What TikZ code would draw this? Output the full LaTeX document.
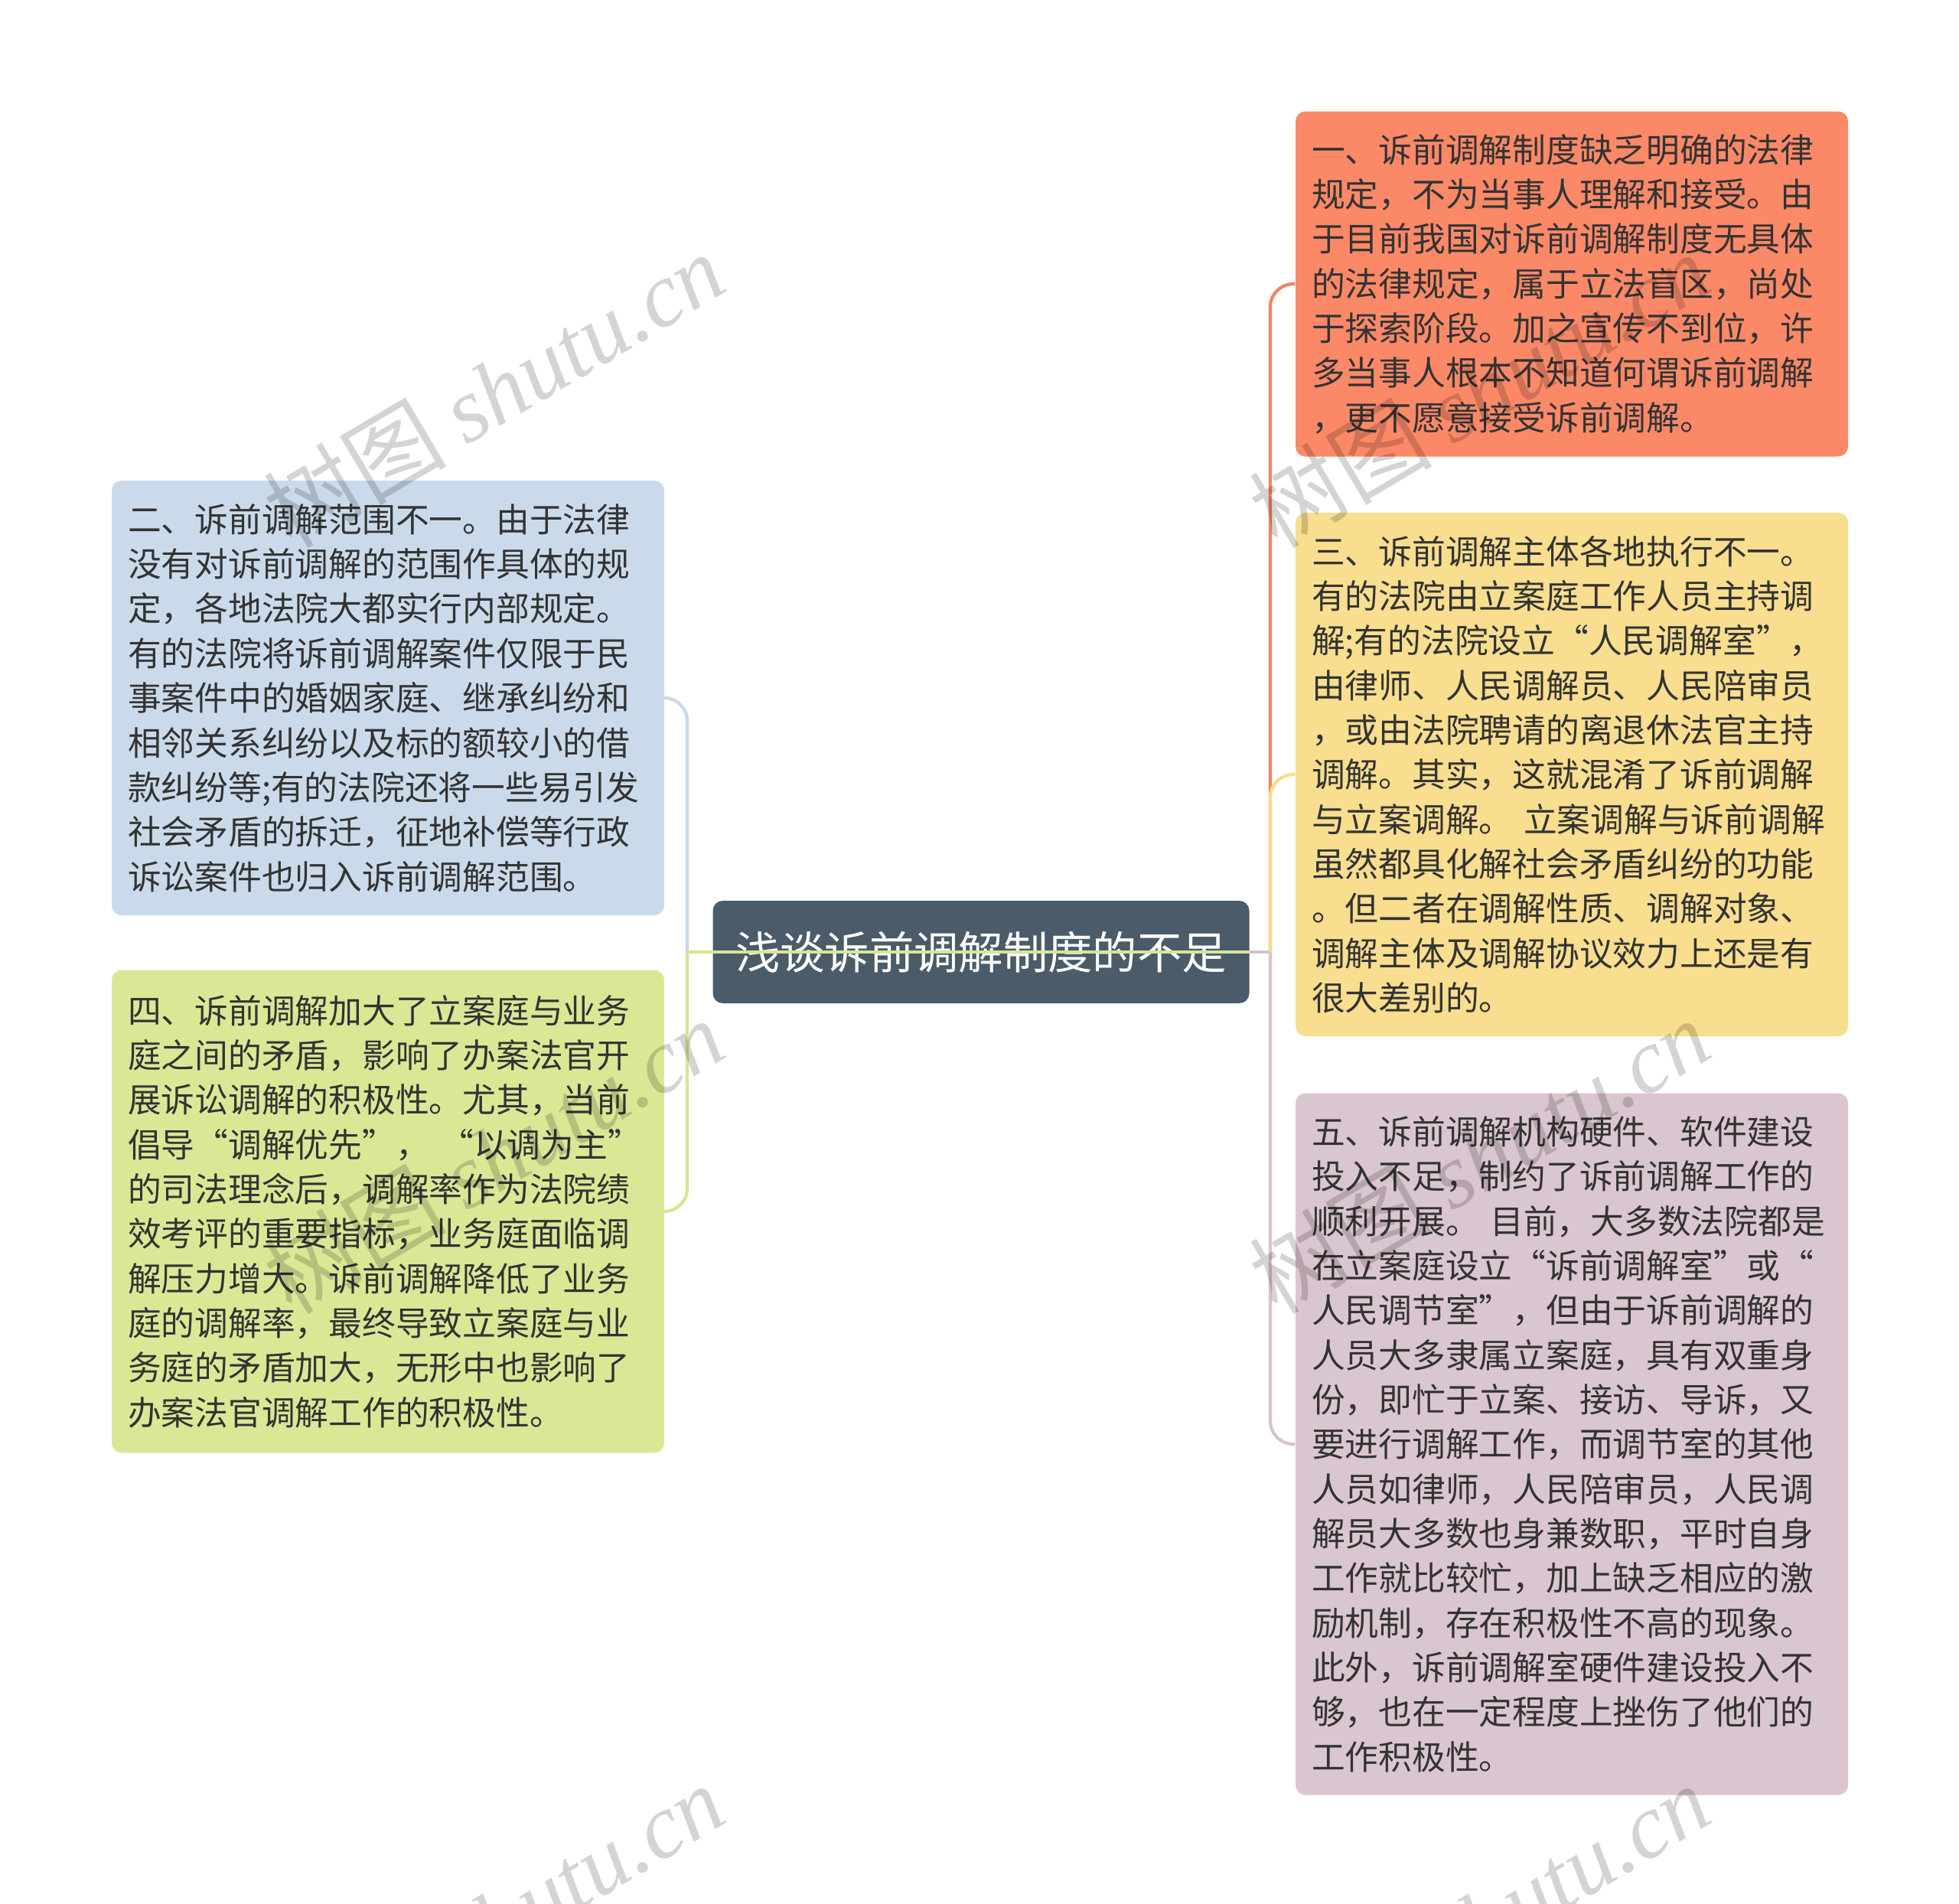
\documentclass[tikz,border=0pt]{standalone}
\usepackage{fontspec}
\usepackage{xcolor}
\usetikzlibrary{positioning,backgrounds}
\newfontfamily\cjk{Noto Sans CJK SC}
\newfontfamily\wmserif{Liberation Serif}
\definecolor{rootslate}{RGB}{76,91,106}
\definecolor{textdark}{RGB}{51,51,51}
\definecolor{fillorange}{RGB}{251,137,104}
\definecolor{fillyellow}{RGB}{248,222,142}
\definecolor{fillmauve}{RGB}{218,198,208}
\definecolor{fillblue}{RGB}{203,218,235}
\definecolor{fillgreen}{RGB}{218,232,150}
\definecolor{lineorange}{RGB}{242,132,100}
\definecolor{lineyellow}{RGB}{245,220,140}
\definecolor{linemauve}{RGB}{215,195,205}
\definecolor{lineblue}{RGB}{200,216,232}
\definecolor{linegreen}{RGB}{214,230,150}

\begin{document}
\begin{tikzpicture}[
    every node/.style={font=\cjk},
    root/.style={rectangle, fill=rootslate, text=white, rounded corners=0.13cm, minimum width=7.01cm, minimum height=1.34cm, inner sep=0pt, font=\cjk\fontsize{16.6}{20}\selectfont},
    topic/.style={rectangle, rounded corners=0.13cm, text=textdark, text width=6.8cm, align=left, inner xsep=0.21cm, inner ysep=0pt, font=\cjk\fontsize{12.45}{16.6}\selectfont},
    link/.style={line width=1.2pt, rounded corners=0.3cm},
    watermark/.style={rotate=30.7, text=black, text opacity=0.17, inner sep=0pt, font=\cjk\fontsize{34}{34}\selectfont}
]

\useasboundingbox (0,0) rectangle (25.6,-24.87);

% Central topic
\node[root] (root) at (12.82,-12.44) {浅谈诉前调解制度的不足};

% Right branches
\node[topic, fill=fillorange, minimum height=4.51cm] (law) at (20.54,-3.71) {
    一、诉前调解制度缺乏明确的法律\\
    规定，不为当事人理解和接受。由\\
    于目前我国对诉前调解制度无具体\\
    的法律规定，属于立法盲区，尚处\\
    于探索阶段。加之宣传不到位，许\\
    多当事人根本不知道何谓诉前调解\\
    ，更不愿意接受诉前调解。
};

\node[topic, fill=fillyellow, minimum height=6.84cm] (subject) at (20.54,-10.12) {
    三、诉前调解主体各地执行不一。\\
    有的法院由立案庭工作人员主持调\\
    解;有的法院设立“人民调解室”，\\
    由律师、人民调解员、人民陪审员\\
    ，或由法院聘请的离退休法官主持\\
    调解。其实，这就混淆了诉前调解\\
    与立案调解。 立案调解与诉前调解\\
    虽然都具化解社会矛盾纠纷的功能\\
    。但二者在调解性质、调解对象、\\
    调解主体及调解协议效力上还是有\\
    很大差别的。
};

\node[topic, fill=fillmauve, minimum height=9.17cm] (facility) at (20.54,-18.87) {
    五、诉前调解机构硬件、软件建设\\
    投入不足，制约了诉前调解工作的\\
    顺利开展。 目前，大多数法院都是\\
    在立案庭设立“诉前调解室”或“\\
    人民调节室”，但由于诉前调解的\\
    人员大多隶属立案庭，具有双重身\\
    份，即忙于立案、接访、导诉，又\\
    要进行调解工作，而调节室的其他\\
    人员如律师，人民陪审员，人民调\\
    解员大多数也身兼数职，平时自身\\
    工作就比较忙，加上缺乏相应的激\\
    励机制，存在积极性不高的现象。\\
    此外，诉前调解室硬件建设投入不\\
    够，也在一定程度上挫伤了他们的\\
    工作积极性。
};

% Left branches
\node[topic, fill=fillblue, minimum height=5.68cm] (scope) at (5.07,-9.12) {
    二、诉前调解范围不一。由于法律\\
    没有对诉前调解的范围作具体的规\\
    定，各地法院大都实行内部规定。\\
    有的法院将诉前调解案件仅限于民\\
    事案件中的婚姻家庭、继承纠纷和\\
    相邻关系纠纷以及标的额较小的借\\
    款纠纷等;有的法院还将一些易引发\\
    社会矛盾的拆迁，征地补偿等行政\\
    诉讼案件也归入诉前调解范围。
};

\node[topic, fill=fillgreen, minimum height=6.31cm] (conflict) at (5.07,-15.83) {
    四、诉前调解加大了立案庭与业务\\
    庭之间的矛盾，影响了办案法官开\\
    展诉讼调解的积极性。尤其，当前\\
    倡导“调解优先”， “以调为主”\\
    的司法理念后，调解率作为法院绩\\
    效考评的重要指标，业务庭面临调\\
    解压力增大。诉前调解降低了业务\\
    庭的调解率，最终导致立案庭与业\\
    务庭的矛盾加大，无形中也影响了\\
    办案法官调解工作的积极性。
};

% Junctions
\coordinate (rjoin) at (16.6,-12.44);
\coordinate (ljoin) at (8.98,-12.44);

% Connectors
\begin{scope}[on background layer]
    \fill[white] (0,0) rectangle (25.6,-24.87);
    \draw[link, lineblue] (root) -- (ljoin);
    \draw[link, lineblue] (ljoin) |- (scope.east);
    \draw[link, linegreen] (ljoin) |- (conflict.east);
    \draw[link, linemauve] (root) -- (rjoin);
    \draw[link, lineorange] (rjoin) |- (law.west);
    \draw[link, lineyellow] (rjoin) |- (subject.west);
    \draw[link, linemauve] (rjoin) |- (facility.west);
\end{scope}
\draw[link, linegreen] (ljoin) -- (root.east);

% Watermarks
\foreach \wx/\wy [count=\i] in {6.45/-5.09, 19.33/-5.09, 6.45/-15.1, 19.33/-15.1, 6.45/-25.1, 19.33/-25.1}
    \node[watermark] (wm\i) at (\wx,\wy) {树图 {\wmserif\itshape shutu.cn}};

\end{tikzpicture}
\end{document}
